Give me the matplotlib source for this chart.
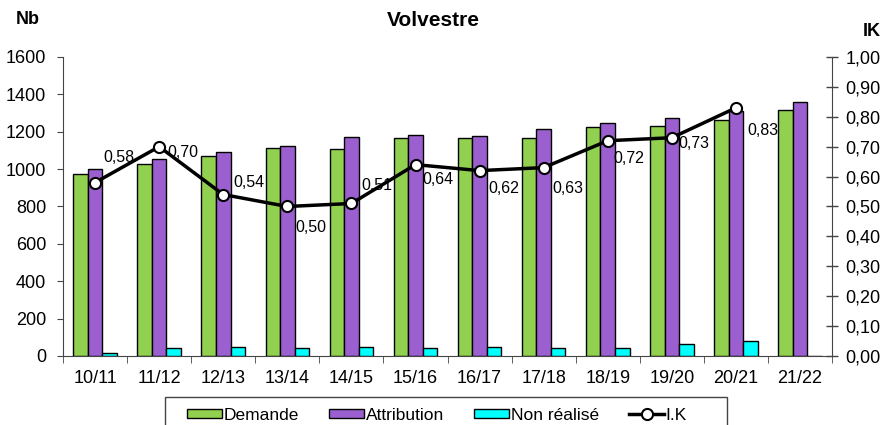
import matplotlib
matplotlib.use("Agg")
import matplotlib.pyplot as plt
import numpy as np
from matplotlib.patches import Rectangle
from matplotlib.ticker import FuncFormatter, FixedLocator

plt.rcParams["font.family"] = ["Liberation Sans", "DejaVu Sans"]

seasons = ["10/11", "11/12", "12/13", "13/14", "14/15", "15/16",
           "16/17", "17/18", "18/19", "19/20", "20/21", "21/22"]
demande = [975, 1025, 1070, 1113, 1110, 1167, 1167, 1167, 1224, 1233, 1265, 1314]
attribution = [999, 1056, 1094, 1122, 1172, 1180, 1178, 1215, 1249, 1272, 1310, 1360]
non_realise = [18, 45, 50, 45, 50, 45, 49, 43, 43, 66, 80, 0]
ik = [0.58, 0.70, 0.54, 0.50, 0.51, 0.64, 0.62, 0.63, 0.72, 0.73, 0.83]

# label offsets (points) for the I.K values, as placed in the original
ik_offsets = [(6, 18), (6, -4), (7, 9), (6, -15), (7, 13), (5, -11),
              (6, -13), (6, -15), (4, -13), (5, -4), (8, -16)]

GREEN = "#92D050"
PURPLE = "#9B5FCF"
CYAN = "#00FFFF"
GREY = "#444444"

fig = plt.figure(figsize=(8.85, 4.25), dpi=100)
ax = fig.add_axes([0.0712, 0.1624, 0.8690, 0.7035])

x = np.arange(len(seasons))
w = 0.227
bar_kw = dict(width=w, edgecolor="black", linewidth=1.0, zorder=2)
ax.bar(x - w, demande, color=GREEN, label="Demande", **bar_kw)
ax.bar(x, attribution, color=PURPLE, label="Attribution", **bar_kw)
ax.bar(x + w, non_realise, color=CYAN, label="Non réalisé", **bar_kw)

ax.set_xlim(-0.5, len(seasons) - 0.5)
ax.set_ylim(0, 1600)
ax.set_yticks(np.arange(0, 1601, 200))
ax.set_xticks(x)
ax.set_xticklabels(seasons)
ax.xaxis.set_minor_locator(FixedLocator(np.arange(-0.5, len(seasons), 1.0)))
ax.tick_params(axis="x", which="major", length=0, pad=10, labelsize=13)
ax.tick_params(axis="x", which="minor", length=5, direction="out", color=GREY)
ax.tick_params(axis="y", length=4, direction="out", labelsize=13, color=GREY, pad=8)
for side in ("top", "right"):
    ax.spines[side].set_visible(False)
ax.spines["left"].set_color(GREY)
ax.spines["bottom"].set_color(GREY)

ax2 = ax.twinx()
ax2.set_ylim(0, 1.0)
ax2.set_yticks(np.arange(0, 1.01, 0.1))
ax2.yaxis.set_major_formatter(FuncFormatter(lambda v, p: f"{v:.2f}".replace(".", ",")))
ax2.tick_params(axis="y", length=9, direction="inout", width=1, labelsize=13,
                color=GREY, pad=5)
for side in ("top", "left", "bottom"):
    ax2.spines[side].set_visible(False)
ax2.spines["right"].set_color(GREY)

xk = x[:len(ik)]
ax2.plot(xk, ik, color="black", linewidth=2.5, marker="o", markersize=8,
         markerfacecolor="white", markeredgecolor="black", markeredgewidth=1.5,
         label="I.K", zorder=3)
for xi, v, off in zip(xk, ik, ik_offsets):
    ax2.annotate(f"{v:.2f}".replace(".", ","), (xi, v), xytext=off,
                 textcoords="offset points", ha="left", va="center", fontsize=11.5)

fig.text(0.490, 0.951, "Volvestre", ha="center", va="center",
         fontsize=15, fontweight="bold")
fig.text(0.031, 0.953, "Nb", ha="center", va="center", fontsize=13, fontweight="bold")
fig.text(0.985, 0.927, "IK", ha="center", va="center", fontsize=13, fontweight="bold")

# legend frame drawn separately: Excel leaves extra room on the right
fig.patches.append(Rectangle((165 / 885, -0.05), 562 / 885, 28 / 425 + 0.05,
                             transform=fig.transFigure, fill=False,
                             edgecolor=GREY, linewidth=1.0))
h1, l1 = ax.get_legend_handles_labels()
h2, l2 = ax2.get_legend_handles_labels()
fig.legend(h1 + h2, l1 + l2, loc="center left", bbox_to_anchor=(187 / 885, 1 - 415 / 425),
           ncol=4, fontsize=12.5, frameon=False, borderpad=0, borderaxespad=0,
           handlelength=2.0, handleheight=0.45, handletextpad=0.1, columnspacing=1.75)

fig.savefig("out.png", dpi=100)
